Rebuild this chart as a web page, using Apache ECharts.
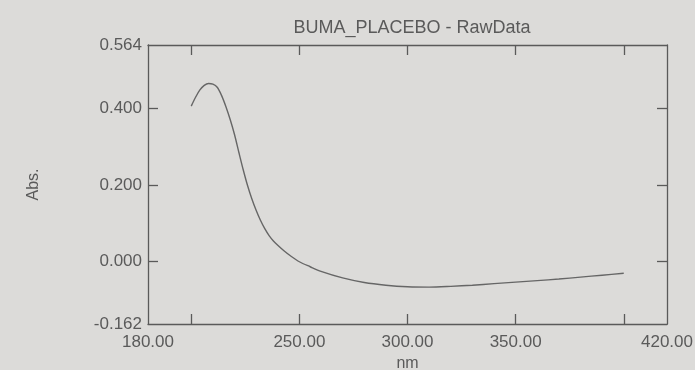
<!DOCTYPE html>
<html>
<head>
<meta charset="utf-8">
<title>BUMA_PLACEBO - RawData</title>
<script src="https://cdn.jsdelivr.net/npm/echarts@6/dist/echarts.min.js"></script>
<style>
  html, body { margin: 0; padding: 0; background: #dcdbd9; }
  #main { width: 695px; height: 370px; }
</style>
</head>
<body>
<div id="main"></div>
<script>
// wavelength (nm) and absorbance
var wavelength = [200, 202, 204, 206, 208, 210, 212, 214, 216, 218, 220, 222, 224, 226, 228, 230,
                  232, 234, 236, 238, 240, 243, 246, 250, 255, 260, 270, 280, 290, 300, 310, 320,
                  330, 340, 350, 360, 370, 380, 390, 400];
var absorbance = [0.405, 0.428, 0.447, 0.459, 0.464, 0.462, 0.454, 0.433, 0.404, 0.370, 0.331, 0.285,
                  0.240, 0.199, 0.164, 0.134, 0.108, 0.086, 0.068, 0.054, 0.043, 0.028, 0.015, 0.000,
                  -0.013, -0.025, -0.042, -0.054, -0.061, -0.065, -0.066, -0.064, -0.061, -0.057,
                  -0.053, -0.049, -0.045, -0.040, -0.035, -0.030];

var xLabels = [180, 250, 300, 350, 420];
var xTicks = [200, 250, 300, 350, 400];
var yLabels = [-0.162, 0, 0.2, 0.4, 0.564];
var yTicks = [0, 0.2, 0.4];

var points = [];
for (var i = 0; i < wavelength.length; i++) {
    points.push([wavelength[i], absorbance[i]]);
}

var ink = '#5a5a5a';
var font = 'Liberation Sans, Arial, sans-serif';

var myChart = echarts.init(document.getElementById('main'));
var option = {
    backgroundColor: '#dcdbd9',
    animation: false,
    title: {
        text: 'BUMA_PLACEBO - RawData',
        left: 407,
        textAlign: 'center',
        top: 14,
        textStyle: { color: ink, fontSize: 18, fontWeight: 'normal', fontFamily: font }
    },
    grid: { left: 148, top: 45, right: 28, bottom: 46, show: false, containLabel: false, outerBoundsMode: 'none' },
    xAxis: [
        {
            type: 'value',
            min: 180,
            max: 420,
            name: 'nm',
            nameLocation: 'middle',
            nameGap: 32,
            nameTextStyle: { color: ink, fontSize: 16, fontFamily: font },
            axisLine: { show: true, onZero: false, lineStyle: { color: ink, width: 1.3 } },
            axisTick: { show: true, inside: true, length: 10, customValues: xTicks, lineStyle: { color: ink, width: 1.3 } },
            axisLabel: {
                customValues: xLabels,
                margin: 10,
                color: ink,
                fontSize: 17,
                fontFamily: font,
                formatter: function (v) { return v.toFixed(2); }
            },
            splitLine: { show: false }
        },
        {
            type: 'value',
            position: 'top',
            min: 180,
            max: 420,
            axisLine: { show: true, onZero: false, lineStyle: { color: ink, width: 1.3 } },
            axisTick: { show: true, inside: true, length: 10, customValues: xTicks, lineStyle: { color: ink, width: 1.3 } },
            axisLabel: { show: false },
            splitLine: { show: false }
        }
    ],
    yAxis: [
        {
            type: 'value',
            min: -0.162,
            max: 0.564,
            name: 'Abs.',
            nameLocation: 'middle',
            nameGap: 106,
            nameRotate: 90,
            nameTextStyle: { color: ink, fontSize: 16, fontFamily: font },
            axisLine: { show: true, onZero: false, lineStyle: { color: ink, width: 1.3 } },
            axisTick: { show: true, inside: true, length: 10, customValues: yTicks, lineStyle: { color: ink, width: 1.3 } },
            axisLabel: {
                customValues: yLabels,
                margin: 6,
                color: ink,
                fontSize: 17,
                fontFamily: font,
                formatter: function (v) { return v.toFixed(3); }
            },
            splitLine: { show: false }
        },
        {
            type: 'value',
            position: 'right',
            min: -0.162,
            max: 0.564,
            axisLine: { show: true, onZero: false, lineStyle: { color: ink, width: 1.3 } },
            axisTick: { show: true, inside: true, length: 10, customValues: yTicks, lineStyle: { color: ink, width: 1.3 } },
            axisLabel: { show: false },
            splitLine: { show: false }
        }
    ],
    series: [
        {
            name: 'Abs.',
            type: 'line',
            data: points,
            smooth: 0.3,
            showSymbol: false,
            lineStyle: { color: '#666666', width: 1.4 }
        }
    ]
};
myChart.setOption(option);
</script>
</body>
</html>
